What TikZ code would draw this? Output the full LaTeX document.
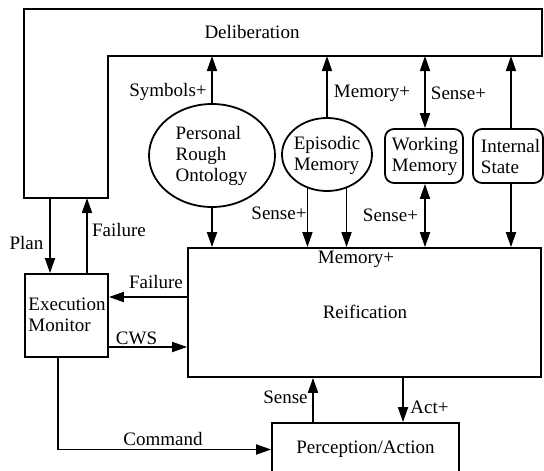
\documentclass[tikz,border=0pt]{standalone}
\usepackage{fontspec}
\setmainfont{Liberation Serif}
\usetikzlibrary{arrows.meta,shapes.geometric}
\begin{document}
\begin{tikzpicture}[x=1pt,y=-1pt,
  every node/.style={font=\fontsize{19}{21}\selectfont, inner sep=0pt},
  frame/.style={draw, line width=1.8pt},
  blk/.style={frame, rectangle},
  oval/.style={frame, ellipse},
  rbox/.style={frame, rectangle, rounded corners=9pt},
  txt/.style={align=left},
  flow/.style={line width=1.8pt, -{Triangle[length=15pt,width=10pt]}},
  flowboth/.style={line width=1.8pt, {Triangle[length=15pt,width=10pt]}-{Triangle[length=15pt,width=10pt]}}
]
\useasboundingbox (0,0) rectangle (544,471);

% Deliberation: L-shaped layer
\draw[frame] (24,9) -- (542,9) -- (542,56) -- (108,56) -- (108,198) -- (24,198) -- cycle;
\node (delib) at (252,32) {Deliberation};
\coordinate (dbar) at (0,56);
\coordinate (dleg) at (0,198);

% Modules
\node[blk, minimum width=83pt, minimum height=83pt] (em) at (66.5,315.5) {};
\node[txt] (emtext) at (67,315) {Execution\\Monitor};

\node[blk, minimum width=353pt, minimum height=129pt] (reif) at (364.5,312.5) {};
\node (reiftext) at (365,312) {Reification};
\node (reifmem) at (356,259) {Memory+};

\node[blk, minimum width=187pt, minimum height=53pt] (pa) at (365.5,449.5) {Perception/Action};

\node[oval, minimum width=126pt, minimum height=103pt] (pro) at (212,155.5) {};
\node[txt] (protext) at (211.5,155.7) {Personal\\Rough\\Ontology};

\node[oval, minimum width=90pt, minimum height=73pt] (ep) at (327,154.5) {};
\node[txt] (eptext) at (327,155.5) {Episodic\\Memory};

\node[rbox, minimum width=78pt, minimum height=54pt] (wm) at (424,156) {};
\node[txt] (wmtext) at (425,156) {Working\\Memory};

\node[rbox, minimum width=70pt, minimum height=54pt] (is) at (508,156) {};
\node[txt] (istext) at (510.5,156) {Internal\\State};

% Connector columns and rows
\coordinate (wmx) at (425,0);
\coordinate (isx) at (511,0);
\coordinate (planx) at (50,0);
\coordinate (failx) at (87,0);
\coordinate (cmdx) at (58,0);
\coordinate (sensex) at (313,0);
\coordinate (actx) at (403,0);
\coordinate (faily) at (0,297);
\coordinate (cwsy) at (0,347);

% Upper connectors
\draw[flow] (pro.north) -- (pro.north |- dbar);
\draw[flow] (pro.south) -- (pro.south |- reif.north);
\draw[flow] (ep.north) -- (ep.north |- dbar);
\draw[flow] (ep.240) -- (ep.240 |- reif.north);
\draw[flow] (ep.300) -- (ep.300 |- reif.north);
\draw[flowboth] (wmx |- wm.north) -- (wmx |- dbar);
\draw[flowboth] (wmx |- wm.south) -- (wmx |- reif.north);
\draw[flow] (isx |- is.north) -- (isx |- dbar);
\draw[flow] (isx |- is.south) -- (isx |- reif.north);

% Left and lower connectors
\draw[flow] (planx |- dleg) -- (planx |- em.north);
\draw[flow] (failx |- em.north) -- (failx |- dleg);
\draw[flow] (reif.west |- faily) -- (em.east |- faily);
\draw[flow] (em.east |- cwsy) -- (reif.west |- cwsy);
\draw[flow] (cmdx |- em.south) |- (pa.west);
\draw[flow] (sensex |- pa.north) -- (sensex |- reif.south);
\draw[flow] (actx |- reif.south) -- (actx |- pa.north);

% Connector labels
\node (lsym) at (168,92) {Symbols+};
\node (lmem) at (372,93) {Memory+};
\node (lsense1) at (458.5,93) {Sense+};
\node (lsense2) at (279,213) {Sense+};
\node (lsense3) at (390.5,215) {Sense+};
\node (lplan) at (26.5,243) {Plan};
\node (lfail1) at (119,230) {Failure};
\node (lfail2) at (156,282) {Failure};
\node (lcws) at (136.5,338) {CWS};
\node (lcmd) at (163,439) {Command};
\node (lsense4) at (285.5,397) {Sense};
\node (lact) at (429.5,407) {Act+};
\end{tikzpicture}
\end{document}
